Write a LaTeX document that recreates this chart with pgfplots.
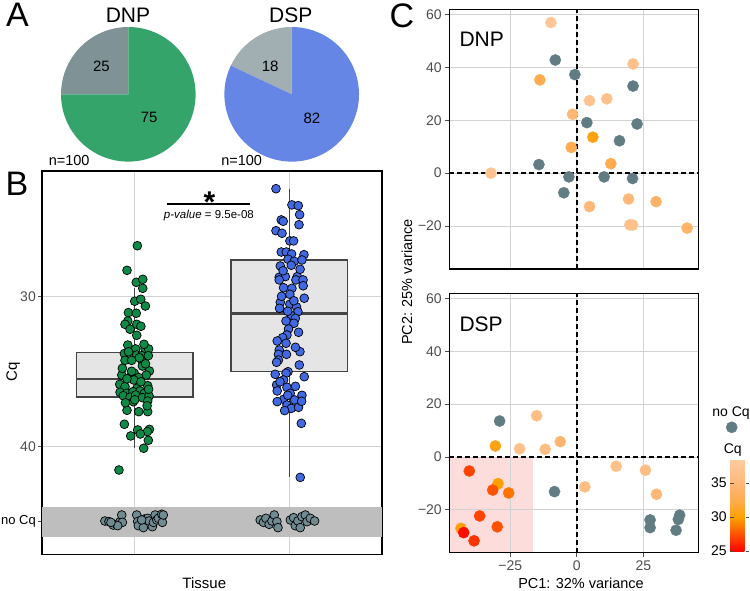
\documentclass[border=0pt]{standalone}
\usepackage{pgfplots}
\pgfplotsset{compat=1.18}
\usepackage{pgfplotstable}
\usepgfplotslibrary{statistics}
\usepackage{fontspec}
\setmainfont{Liberation Sans}
\newcommand\fs[1]{\fontsize{#1}{#1}\selectfont}
\definecolor{gray30}{HTML}{4D4D4D}
\definecolor{gridc}{HTML}{D2D2D2}
\definecolor{boxgray}{HTML}{454545}
\definecolor{boxfill}{HTML}{E5E5E5}
\definecolor{bandgray}{HTML}{BEBEBE}
\definecolor{dnpgreen}{HTML}{0F8A46}
\definecolor{dspblue}{HTML}{4169E1}
\definecolor{nocq}{HTML}{708A92}
\definecolor{pcagray}{HTML}{627C83}
\definecolor{piegreen}{HTML}{35A46B}
\definecolor{piegrayA}{HTML}{7F9397}
\definecolor{pieblue}{HTML}{6586E4}
\definecolor{piegrayB}{HTML}{A1AFB2}
\definecolor{pinkrect}{HTML}{FDDCDC}
\pgfplotsset{
 colormap={cqmap}{rgb255(0cm)=(255,0,0); rgb255(2.5cm)=(255,80,0); rgb255(5cm)=(255,160,0); rgb255(7.5cm)=(255,172,80); rgb255(10cm)=(255,184,120); rgb255(13.5cm)=(255,204,162)},
 /pgf/number format/assume math mode=true,
}
% ---------------- data ----------------
\def\dnpNo{25}\def\dnpYes{75}
\def\dspNo{18}\def\dspYes{82}
\pgfplotstableread{
x y
1.017 26.63
0.950 28.27
1.010 29.07
1.052 28.87
1.052 29.47
1.000 30.33
1.039 30.20
1.069 30.65
0.959 31.09
1.010 31.13
0.955 31.65
0.937 31.87
1.013 31.87
1.013 32.60
0.955 33.25
1.006 33.51
1.067 33.51
1.090 33.51
0.933 33.82
1.013 33.91
1.045 33.96
1.088 33.96
0.937 34.27
0.980 34.27
1.050 34.36
1.050 34.65
1.095 34.98
0.997 35.13
0.916 35.25
1.075 35.25
0.974 35.36
1.026 35.42
0.994 35.58
0.903 35.87
0.937 36.03
1.084 35.96
1.015 36.13
0.905 36.40
0.948 36.47
0.989 36.36
1.034 36.31
1.062 36.47
0.926 36.63
0.970 36.73
1.006 36.58
1.050 36.76
1.093 36.65
0.991 37.03
1.084 36.98
0.950 37.60
1.026 37.69
1.084 37.69
0.933 38.53
1.019 38.91
1.095 38.87
1.082 39.02
0.974 39.31
1.036 39.18
1.088 39.60
1.058 40.13
0.898 41.58
0.960 33.70
1.030 34.10
0.920 34.80
1.070 34.50
0.980 35.00
1.040 35.70
0.950 35.50
1.090 36.20
1.000 36.90
0.940 37.10
1.060 33.20
0.970 32.20
1.040 32.00
1.080 37.30
}\dnpjit
\pgfplotstableread{
x y
1.914 22.83
2.017 23.91
2.058 23.96
2.067 24.56
1.948 24.91
1.961 25.00
2.063 25.23
1.914 25.63
1.953 25.80
2.004 26.31
2.028 26.31
1.948 27.05
1.981 27.05
2.015 27.18
2.095 27.23
1.992 27.53
2.032 27.67
2.082 27.58
1.942 27.98
2.013 27.93
1.935 28.73
1.974 28.69
2.052 28.69
1.935 28.91
2.043 28.91
2.089 28.91
1.963 29.43
2.017 29.47
2.004 29.87
2.097 30.13
1.942 30.40
1.937 30.80
2.004 30.53
2.047 30.71
2.056 31.03
2.013 31.29
2.039 31.47
1.979 31.65
2.030 31.80
1.995 32.18
1.985 32.58
1.957 32.76
1.922 32.98
1.979 33.13
1.935 33.58
1.930 33.87
1.982 33.87
2.069 33.69
1.930 34.25
1.918 34.40
2.065 34.58
1.909 35.20
1.992 35.03
1.979 35.13
1.963 35.58
2.097 35.36
1.918 35.91
1.985 36.07
1.922 36.31
2.006 36.47
2.082 36.60
1.963 36.87
2.034 36.91
1.922 37.02
1.985 37.25
2.013 37.47
2.060 37.40
1.970 37.62
2.078 38.47
2.071 42.07
2.070 28.20
1.960 28.30
2.090 29.30
1.950 30.00
2.030 30.30
1.990 31.00
2.060 32.40
1.940 35.70
2.040 36.00
2.080 37.00
1.990 36.60
2.040 33.40
}\dspjit
\pgfplotstableread{
x y
0.807 44.98
0.833 45.02
0.861 45.25
0.883 45.20
0.905 45.02
0.916 44.58
0.920 45.07
0.890 45.29
0.846 45.07
1.013 44.58
1.019 45.02
1.023 45.29
1.056 45.42
1.062 44.85
1.084 44.80
1.093 44.98
1.114 45.36
1.121 45.07
1.132 44.58
1.143 44.91
1.153 44.80
1.175 44.53
1.179 45.07
1.185 44.58
1.045 44.91
1.812 44.91
1.833 45.07
1.849 44.80
1.870 45.20
1.888 44.98
1.903 44.58
1.920 45.02
1.927 45.42
2.007 44.91
2.028 44.76
2.039 45.29
2.056 44.98
2.071 45.42
2.082 44.69
2.104 44.58
2.115 45.02
2.136 44.80
2.164 44.98
}\nocqjit
\pgfplotstableread{
x y cq
-9.75 56.9 37.5
-13.9 35.25 32.5
21.1 41.25 36.5
4.75 27.4 37
11.25 28.1 36.5
-1.6 22.25 35
6.0 13.6 30.5
-2.1 9.75 32.5
12.75 3.6 32.5
-32.25 0.0 37
4.75 -12.6 35
19.4 -9.75 35
29.75 -10.75 34
19.9 -19.5 36.5
20.9 -19.6 36.5
41.4 -20.75 34
}\dnppca
\pgfplotstableread{
x y
-8.1 42.75
-0.75 37.25
21.1 32.9
3.75 19.1
22.6 18.6
16.0 12.25
-14.25 3.25
-3.0 -1.4
10.25 -1.4
20.9 -2.0
-4.9 -7.4
}\dnppcagray
\pgfplotstableread{
x y cq
-15.1 15.6 36
-30.6 4.15 30.5
-21.5 3.1 36.5
-11.9 2.9 36
-6.25 5.8 34.5
-40.4 -5.3 27
-29.6 -10.1 30
-31.6 -12.5 27.5
-25.6 -13.6 28.5
3.0 -11.3 36
14.75 -3.5 36.5
25.75 -5.0 36
29.9 -14.1 35
-36.5 -22.3 27
-29.9 -26.4 27.5
-43.5 -27.0 30
-42.5 -28.6 25.3
-38.6 -31.7 26.5
}\dsppca
\pgfplotstableread{
x y
-29.0 13.6
-8.4 -13.1
27.5 -23.8
27.5 -26.7
38.6 -22.0
38.1 -23.6
37.25 -27.7
}\dsppcagray
\begin{document}
\begin{tikzpicture}
\useasboundingbox (0,0) rectangle (750pt,-590pt);
% ================= Panel A: pies =================
\pgfmathsetmacro{\angA}{90+3.6*\dnpNo}
\pgfmathsetmacro{\angB}{90+3.6*\dspNo}
\begin{axis}[hide axis, scale only axis, width=134.6pt, height=134.6pt,
  xmin=-1, xmax=1, ymin=-1, ymax=1, at={(128.3pt,-94.3pt)}, anchor=center, clip=false]
  \fill[piegrayA] (axis cs:0,0) -- ++(90:67.3pt) arc[start angle=90, end angle=\angA, radius=67.3pt] -- cycle;
  \fill[piegreen] (axis cs:0,0) -- ++(\angA:67.3pt) arc[start angle=\angA, end angle=450, radius=67.3pt] -- cycle;
  \node[font=\fs{15}] at (axis cs:-0.40,0.42) {\dnpNo};
  \node[font=\fs{15}] at (axis cs:0.31,-0.35) {\dnpYes};
\end{axis}
\begin{axis}[hide axis, scale only axis, width=134.6pt, height=134.6pt,
  xmin=-1, xmax=1, ymin=-1, ymax=1, at={(291.7pt,-94.3pt)}, anchor=center, clip=false]
  \fill[piegrayB] (axis cs:0,0) -- ++(90:67.3pt) arc[start angle=90, end angle=\angB, radius=67.3pt] -- cycle;
  \fill[pieblue] (axis cs:0,0) -- ++(\angB:67.3pt) arc[start angle=\angB, end angle=450, radius=67.3pt] -- cycle;
  \node[font=\fs{15}] at (axis cs:-0.32,0.42) {\dspNo};
  \node[font=\fs{15}] at (axis cs:0.30,-0.35) {\dspYes};
\end{axis}
\node[font=\fs{21}] at (128pt,-15pt) {DNP};
\node[font=\fs{21}] at (290.7pt,-15pt) {DSP};
\node[font=\fs{14.5}] at (69.2pt,-161pt) {n=100};
\node[font=\fs{14.5}] at (241.7pt,-161pt) {n=100};
% ================= Panel B =================
\begin{axis}[scale only axis, width=340pt, height=383.3pt, at={(42pt,-171pt)}, anchor=north west,
  xmin=0.4, xmax=2.6, ymin=21.65, ymax=47.2, y dir=reverse,
  xtick={1,2}, xticklabels={}, ytick={30,40,45},
  yticklabels={30,40,{\fontsize{13}{13}\selectfont\textcolor{black}{no Cq}}},
  grid=major, major grid style={gridc, line width=0.9pt},
  axis line style={black, line width=1.3pt},
  xtick style={draw=none}, ytick style={gray30, line width=0.9pt}, ytick pos=left,
  tick align=outside, major tick length=4pt,
  yticklabel style={font=\fs{14}, text=gray30, inner sep=2pt},
  boxplot/draw direction=y,
  boxplot/every median/.style={line width=2.6pt},
  clip=false]
  \addplot[fill=bandgray, draw=none, forget plot] coordinates {(0.4,44.03) (2.6,44.03) (2.6,46.03) (0.4,46.03)} -- cycle;
  \addplot[boxplot prepared={lower whisker=29.43, lower quartile=33.73, median=35.51, upper quartile=36.71, upper whisker=40.13, draw position=1, box extend=0.756, whisker extend=0},
    draw=boxgray, fill=boxfill, line width=1.3pt, solid] coordinates {};
  \addplot[boxplot prepared={lower whisker=22.85, lower quartile=27.58, median=31.13, upper quartile=35.03, upper whisker=42.03, draw position=2, box extend=0.756, whisker extend=0},
    draw=boxgray, fill=boxfill, line width=1.3pt, solid] coordinates {};
  \addplot[only marks, mark=*, mark size=4.4pt, mark options={fill=dnpgreen, draw=black, line width=0.7pt}] table {\dnpjit};
  \addplot[only marks, mark=*, mark size=4.4pt, mark options={fill=dspblue, draw=black, line width=0.7pt}] table {\dspjit};
  \addplot[only marks, mark=*, mark size=4.4pt, mark options={fill=nocq, draw=black, line width=0.7pt}] table {\nocqjit};
  \addplot[black, line width=2pt] coordinates {(1.207,23.87) (1.743,23.87)};
  \node[font=\fs{30}\bfseries, anchor=south, inner sep=0pt, yshift=4.5pt] at (axis cs:1.483,23.87) {\raisebox{-0.42em}[0.31em][0pt]{*}};
  \node[font=\fs{11.5}, anchor=north, inner sep=0pt, yshift=-5.5pt] at (axis cs:1.48,23.87) {\textit{p-value} = 9.5e-08};
\end{axis}
\node[font=\fs{15}, rotate=90] at (13.3pt,-372pt) {Cq};
\node[font=\fs{15}] at (204.3pt,-583pt) {Tissue};
% ================= Panel C =================
\begin{axis}[scale only axis, width=249pt, height=259.7pt, at={(449.3pt,-9.3pt)}, anchor=north west,
  xmin=-47.9, xmax=45.6, ymin=-36.2, ymax=61.9,
  xtick={-25,0,25}, xticklabels={}, xtick style={draw=none},
  ytick={-20,0,20,40,60}, yticklabels={−20,0,20,40,60}, ytick pos=left,
  ytick style={gray30, line width=0.9pt}, tick align=outside, major tick length=4pt,
  yticklabel style={font=\fs{14}, text=gray30},
  grid=major, major grid style={gridc, line width=0.9pt},
  axis line style={black, line width=1.5pt},
  colormap name=cqmap, point meta min=24.9, point meta max=38.5]
  \addplot[black, line width=1.5pt, dash pattern=on 5pt off 3pt] coordinates {(0,-36.2) (0,61.9)};
  \addplot[black, line width=1.5pt, dash pattern=on 5pt off 3pt] coordinates {(-47.9,0) (45.6,0)};
  \addplot[only marks, mark=*, mark size=5.6pt, mark options={fill=pcagray, draw=pcagray}] table {\dnppcagray};
  \addplot[scatter, only marks, mark=*, mark size=5.6pt, scatter src=explicit,
    scatter/use mapped color={draw=mapped color, fill=mapped color}] table[meta=cq] {\dnppca};
\end{axis}
\node[font=\fs{21}, anchor=west] at (456pt,-39pt) {DNP};
% pink region under the DSP grid
\begin{axis}[hide axis, scale only axis, width=249pt, height=259.4pt, at={(449.3pt,-293.3pt)}, anchor=north west,
  xmin=-47.9, xmax=45.6, ymin=-36.2, ymax=61.9]
  \addplot[fill=pinkrect, draw=none] coordinates {(-47.9,-36.2) (-16.5,-36.2) (-16.5,0) (-47.9,0)} -- cycle;
\end{axis}
\begin{axis}[scale only axis, width=249pt, height=259.4pt, at={(449.3pt,-293.3pt)}, anchor=north west,
  xmin=-47.9, xmax=45.6, ymin=-36.2, ymax=61.9,
  xtick={-25,0,25}, xticklabels={−25,0,25}, xtick pos=bottom,
  ytick={-20,0,20,40,60}, yticklabels={−20,0,20,40,60}, ytick pos=left,
  tick style={gray30, line width=0.9pt}, tick align=outside, major tick length=4pt,
  ticklabel style={font=\fs{14}, text=gray30},
  grid=major, major grid style={gridc, line width=0.9pt},
  axis line style={black, line width=1.5pt},
  colormap name=cqmap, point meta min=24.9, point meta max=38.5,
  colorbar right,
  colorbar style={scale only axis, width=19pt, height=92.4pt, at={(parent axis.south east)}, anchor=south west,
    xshift=23.4pt, yshift=1pt, ytick={25,30,35}, yticklabel pos=left,
    tick align=inside, major tick length=3.5pt, tick style={gray30, line width=0.9pt},
    axis line style={draw=none}, yticklabel style={font=\fs{14}, text=black}}]
  \addplot[black, line width=1.5pt, dash pattern=on 5pt off 3pt] coordinates {(0,-36.2) (0,61.9)};
  \addplot[black, line width=1.5pt, dash pattern=on 5pt off 3pt] coordinates {(-47.9,0) (45.6,0)};
  \addplot[only marks, mark=*, mark size=5.6pt, mark options={fill=pcagray, draw=pcagray}] table {\dsppcagray};
  \addplot[scatter, only marks, mark=*, mark size=5.6pt, scatter src=explicit,
    scatter/use mapped color={draw=mapped color, fill=mapped color}] table[meta=cq] {\dsppca};
\end{axis}
\node[font=\fs{21}, anchor=west] at (456pt,-324pt) {DSP};
% legend key "no Cq"
\begin{axis}[hide axis, scale only axis, width=20pt, height=20pt, xmin=-1, xmax=1, ymin=-1, ymax=1,
  at={(731.7pt,-427.3pt)}, anchor=center, clip=false]
  \addplot[only marks, mark=*, mark size=5.6pt, mark options={fill=pcagray, draw=pcagray}] coordinates {(0,0)};
\end{axis}
\node[font=\fs{14}] at (731pt,-413pt) {no Cq};
\node[font=\fs{14}] at (732.7pt,-450pt) {Cq};
\node[font=\fs{14.5}, rotate=90] at (407pt,-282pt) {PC2: 25\% variance};
\node[font=\fs{14.5}] at (581pt,-583pt) {PC1: 32\% variance};
% panel letters
\node[font=\fs{34}] at (17.5pt,-15pt) {A};
\node[font=\fs{34}] at (17pt,-184pt) {B};
\node[font=\fs{34}] at (402pt,-16pt) {C};
\end{tikzpicture}
\end{document}
